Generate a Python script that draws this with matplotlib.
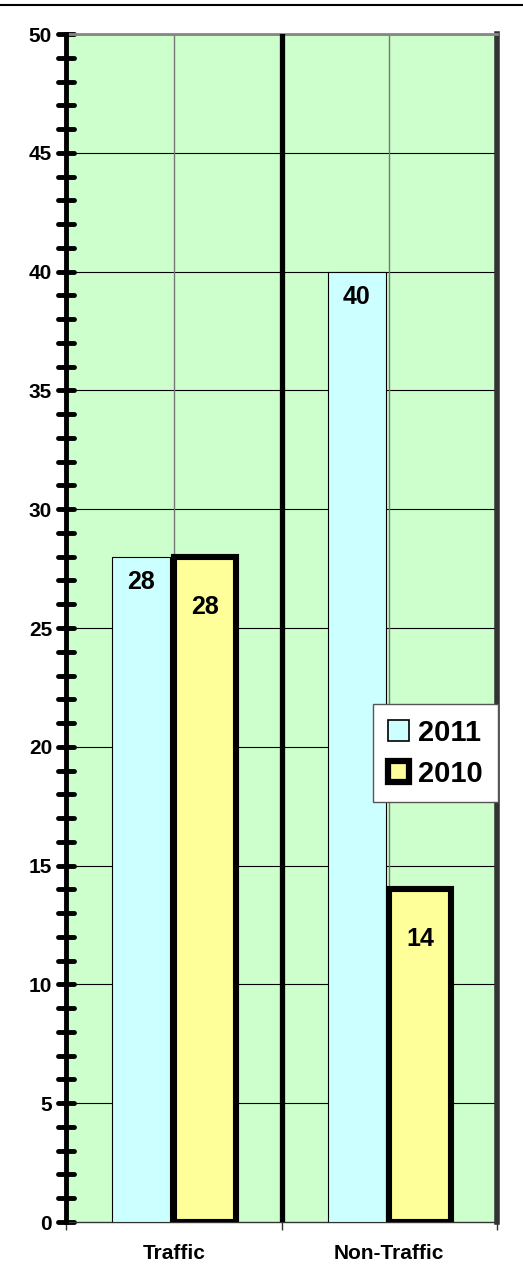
import numpy as np
import matplotlib.pyplot as plt
from matplotlib.patches import Patch
from matplotlib.ticker import MultipleLocator
from matplotlib.lines import Line2D
from matplotlib.markers import MarkerStyle

plt.rcParams['font.family'] = ['Liberation Sans', 'DejaVu Sans']
plt.rcParams['font.weight'] = 'bold'

categories = ['Traffic', 'Non-Traffic']
years = ['2011', '2010']
values_2011 = [28, 40]
values_2010 = [28, 14]

fig = plt.figure(figsize=(5.23, 12.8), dpi=100)
ax = fig.add_axes([66 / 523, 58 / 1280, 431 / 523, 1188 / 1280])
ax.set_facecolor('#CCFFCC')

x = np.arange(len(categories))
b1 = ax.bar(x - 0.151, values_2011, width=0.27, color='#CCFFFF',
            edgecolor='black', linewidth=0.8, zorder=3)
b2 = ax.bar(x + 0.143, values_2010, width=0.288, color='#FFFF99',
            edgecolor='black', linewidth=4.4, zorder=3)

for rect, v in zip(b1, values_2011):
    ax.annotate(str(v), (rect.get_x() + rect.get_width() / 2, v),
                xytext=(0, -18), textcoords='offset points', ha='center',
                va='center', fontsize=18, fontweight='bold', zorder=5)
for rect, v in zip(b2, values_2010):
    ax.annotate(str(v), (rect.get_x() + rect.get_width() / 2, v),
                xytext=(0, -36), textcoords='offset points', ha='center',
                va='center', fontsize=18, fontweight='bold', zorder=5)

ax.set_xlim(-0.5, 1.5)
ax.set_ylim(0, 50)

# gridlines
for y in range(5, 50, 5):
    ax.axhline(y, color='black', lw=0.8, zorder=1)
ax.axhline(50, color='#888888', lw=2, zorder=1)
for c in x:
    ax.axvline(c, color='#777777', lw=1, zorder=1)
ax.axvline(0.5, color='black', lw=3.8, zorder=4)

# y axis
ax.yaxis.set_major_locator(MultipleLocator(5))
ax.yaxis.set_minor_locator(MultipleLocator(1))
ax.tick_params(axis='y', which='both', direction='inout', length=11,
               width=3.5, color='black', labelsize=15, pad=4)
ax.tick_params(axis='y', which='major', length=12)
for lbl in ax.get_yticklabels():
    lbl.set_fontweight('bold')
for t in ax.yaxis.get_major_ticks() + ax.yaxis.get_minor_ticks():
    t.tick1line.set_marker(MarkerStyle('_', capstyle='round'))

# x axis: category separators as small ticks, labels centered
ax.set_xticks([-0.5, 0.5, 1.5])
ax.set_xticklabels([])
ax.set_xticks(x, minor=True)
ax.set_xticklabels(categories, minor=True, fontsize=15, fontweight='bold')
ax.tick_params(axis='x', which='major', direction='out', length=6,
               width=1, color='#333333')
ax.tick_params(axis='x', which='minor', length=0, pad=16)

ax.spines['left'].set_linewidth(3.5)
ax.spines['left'].set_color('black')
ax.spines['left'].set_zorder(6)
ax.spines['bottom'].set_linewidth(1)
ax.spines['bottom'].set_color('#333333')
ax.spines['top'].set_linewidth(2)
ax.spines['top'].set_color('#888888')
ax.spines['right'].set_linewidth(4)
ax.spines['right'].set_color('#333333')

handles = [Patch(facecolor='#CCFFFF', edgecolor='black', linewidth=1.2),
           Patch(facecolor='#FFFF99', edgecolor='black', linewidth=4.5)]
leg = ax.legend(handles, years, loc='upper left',
                bbox_to_anchor=((373 - 66) / 431, (1222 - 704) / 1188),
                prop={'weight': 'bold', 'size': 21},
                frameon=True, fancybox=False, framealpha=1,
                handlelength=0.75, handleheight=0.75, handletextpad=0.3,
                borderpad=0.5, labelspacing=0.45, borderaxespad=0)
leg.get_frame().set_edgecolor('#555555')
leg.get_frame().set_linewidth(1)
leg.set_zorder(10)

fig.add_artist(Line2D([0, 1], [1 - 5 / 1280, 1 - 5 / 1280],
                      color='black', lw=1.5, transform=fig.transFigure))

fig.savefig('out.png', dpi=100)
